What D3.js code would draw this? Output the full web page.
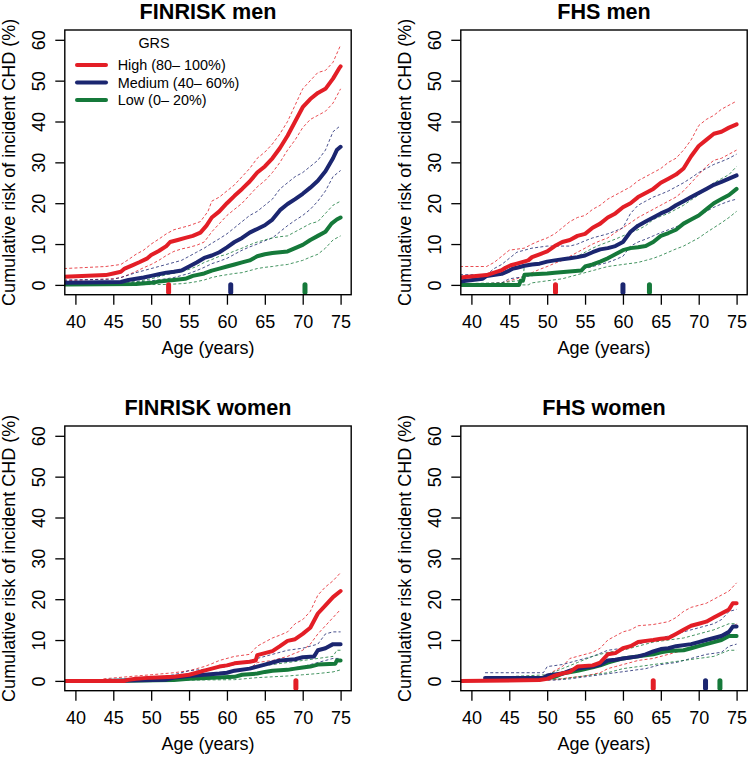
<!DOCTYPE html>
<html><head><meta charset="utf-8">
<script src="https://cdn.jsdelivr.net/npm/d3@7"></script>
<style>body{margin:0;background:#fff}svg{display:block}text{font-family:"Liberation Sans",Arial,Helvetica,sans-serif;fill:#000}</style>
</head><body><svg id="c" width="748" height="760"></svg>
<script>
// ---------- DATA ----------
const panelTitles = ["FINRISK men","FHS men","FINRISK women","FHS women"];
const groupNames = ["High (80\u2013 100%)","Medium (40\u2013 60%)","Low (0\u2013 20%)"];
const legendTitle = "GRS";
const xTicks = [40,45,50,55,60,65,70,75];
const yTicks = [0,10,20,30,40,50,60];
const xLabel = "Age (years)";
const yLabel = "Cumulative risk of incident CHD (%)";

// FINRISK men
const finMenHighEst=[[38.5,2],[44,2.4],[45,2.8],[46,3.2],[46.5,4],[47.5,4.8],[48.5,5.6],[49.5,6.5],[50,7.3],[51,8.3],[52,9.5],[52.5,10.5],[53.5,11],[54.5,11.5],[55.5,12],[56.5,12.8],[57.3,14.5],[58,16.5],[59,18],[60,20],[61,21.8],[62,23.5],[63,25.3],[64,27.5],[65,29],[66,31],[67,33.5],[68,36.5],[69,40],[70,43.5],[71,45.5],[72,47],[73,48],[74,50.5],[74.8,53],[75,53.5]];
const finMenHighHi=[[38.5,4],[44,4.5],[46,5],[47,6.2],[48,7.5],[49,8.5],[50,10],[51,11.2],[52,12.5],[53,13.5],[55,14.5],[56.5,15.5],[57.5,18],[58,20.5],[59,21.5],[60,23],[61,24.5],[62,26.5],[63,28.5],[64,31],[65,32.5],[66,34.5],[67,37],[68,40],[69,44],[70,48],[71,50],[72,52],[73,52.5],[74,54.5],[75,58.7]];
const finMenHighLo=[[38.5,1],[45,1.5],[46,1.8],[47,2.5],[48,3.3],[49,4.2],[50,5],[51,6],[52,7.2],[53,8.2],[54,8.8],[55,9.2],[56,9.7],[57,10.5],[58,13],[59,15],[60,17],[61,18.5],[62,20],[63,22],[64,24],[65,25.5],[66,27.5],[67,30],[68,33],[69,35.5],[70,38.5],[71,40.5],[72,41.5],[73,42.5],[74,44.5],[75,48]];
const finMenMedEst=[[38.5,0.5],[46,0.7],[47,1.2],[48,1.5],[49,1.8],[50,2.2],[51,2.6],[52,3],[53,3.2],[54,3.5],[55,4.5],[56,5.5],[57,6.6],[58,7.2],[59,8],[60,9.2],[61,10.5],[62,11.5],[63,12.8],[64,13.7],[65,14.6],[66,16],[67,18.3],[68,19.8],[69,21],[70,22.3],[71,23.8],[72,25.5],[73,27.8],[74,31],[74.5,33],[75,33.8]];
const finMenMedHi=[[38.5,1.2],[45,1.4],[46,1.8],[47,2.4],[48,3],[49,3.5],[50,4],[51,4.5],[52,5],[53,5.5],[54,6],[55,7],[56,8],[57,9],[58,10.2],[59,11.3],[60,12.5],[61,14],[62,15.5],[63,17],[64,18],[65,19.5],[66,21],[67,23.5],[68,25],[69,26.5],[70,27.5],[71,29],[72,30.5],[73,33],[74,37.5],[75,39]];
const finMenMedLo=[[38.5,0],[46,0.1],[47,0.5],[48,0.7],[50,1],[52,1.5],[53,1.8],[54,2.3],[55,2.8],[56,3.5],[57,4.3],[58,5.2],[59,5.8],[60,6.5],[61,7.5],[62,8.5],[63,9.3],[64,10],[65,10.8],[66,11.5],[67,13],[68,14.5],[69,15.8],[70,17],[71,18.5],[72,20.5],[73,23],[74,26.5],[75,28]];
const finMenLowEst=[[38.5,0.1],[48,0.2],[50,0.5],[51,0.8],[52,1],[53,1.2],[54.5,1.5],[55.5,2.2],[57,2.8],[58,3.5],[59,4],[60,4.5],[61,5],[62,5.5],[63,6],[64,7],[65,7.5],[66,7.8],[67,8],[68,8.2],[69,9],[70,9.8],[71,11],[72,12],[73,13],[73.8,15],[74.5,16],[75,16.5]];
const finMenLowHi=[[38.5,0.5],[48,0.8],[50,1.5],[51,2],[52,2.5],[54,3.2],[55,3.8],[56,4.5],[57,5.5],[58,6.2],[59,7],[60,7.5],[61,8.3],[62,9],[63,9.8],[64,10.5],[65,11],[66,11.5],[67,11.8],[68,12],[69,13],[70,14],[71,15],[72,15.5],[73,17.5],[74,19.5],[75,20.5]];
const finMenLowLo=[[38.5,0],[52,0.1],[54,0.3],[55,0.5],[56,0.8],[57,1.2],[58,1.8],[59,2.2],[60,2.5],[61,2.8],[62,3],[63,3.5],[64,4],[65,4.3],[66,4.5],[67,4.8],[68,5],[69,5.5],[70,6],[71,6.8],[72,7.5],[73,9],[74,11],[75,12]];

// FHS men
const fhsMenHighEst=[[38.5,1.8],[42,2.4],[43,3],[44,3.6],[44.5,4.2],[45.2,4.8],[46,5.2],[47.5,6],[48,6.8],[49,7.5],[50,8.2],[51,9.5],[52,10.5],[53,11],[54,12],[55,12.5],[56,14],[57,15],[58,16.5],[59,17.5],[60,19],[61,20],[62,21.5],[63,22.5],[64,23.5],[65,25],[66,26],[67,27],[68,28.5],[69,31.5],[70,34],[71,35.5],[72,37],[73,37.5],[74,38.5],[75,39.3]];
const fhsMenHighHi=[[38.5,4.5],[42,4.5],[43,5.5],[44,7],[45,8.5],[47,9],[48,10],[49,10.8],[50,11.5],[51,12.5],[52,14],[53,15.5],[54,16.5],[55,17],[56,18.5],[57,19.5],[58,21],[59,22],[60,23],[61,24],[62,25.5],[63,26.5],[64,27.5],[65,28.5],[66,30],[67,31],[68,33],[69,35.5],[70,39],[71,40.5],[72,41.5],[73,43],[74,44],[75,45]];
const fhsMenHighLo=[[38.5,0],[44,0.5],[45,1],[46,1.5],[47,2.2],[48,3],[49,3.8],[50,4.5],[51,5.3],[52,6],[53,7],[54,8],[55,9],[56,10],[57,10.8],[58,11.5],[59,12.8],[60,14],[61,15.2],[62,16.5],[63,17.5],[64,18.5],[65,19.5],[66,20.5],[67,21.5],[68,23],[69,25],[70,27],[71,29],[72,30.5],[73,31],[74,32],[75,33]];
const fhsMenMedEst=[[38.5,0.8],[41.5,1.5],[42,2.2],[44,2.7],[45,3.5],[45.5,4],[46,4.2],[47,4.7],[48,5],[49,5.2],[50,5.7],[51,6],[53,6.5],[54,6.8],[55,7.2],[56,8],[57,8.7],[58,9],[59,9.5],[60,10.5],[61,13],[62,14.5],[63,15.5],[64,16.5],[65,17.5],[66,18.3],[67,19.5],[68,20.5],[69,21.5],[70,22.5],[71,23.5],[72,24.5],[73,25.2],[74,26],[75,26.8]];
const fhsMenMedHi=[[38.5,2.5],[42,2.5],[43,4],[44,5],[45,6.5],[46,8],[48,9],[50,9.5],[53,9.5],[54,10],[55,10.8],[56,11.5],[57,12],[58,12.5],[59,13.2],[60,14],[61,17.5],[62,19.5],[63,20.5],[64,21.5],[65,22.2],[66,23],[67,24],[68,25],[69,26.2],[70,27.5],[71,28.5],[72,29.5],[73,30.2],[74,31],[75,32]];
const fhsMenMedLo=[[38.5,0],[44,0.5],[45,1.5],[47,2],[49,2.5],[52,3],[54,3.5],[55,4],[56,4.5],[57,5],[58,5.5],[59,6.2],[60,7],[61,9.5],[62,10.5],[63,11.2],[64,12],[65,12.8],[66,13.5],[67,14.2],[68,15],[69,16],[70,17],[71,18],[72,19],[73,19.8],[74,20.5],[75,21]];
const fhsMenLowEst=[[38.5,0],[46.3,0],[46.5,1],[46.8,1],[47,2.5],[50,2.8],[51,3],[54.5,3.5],[55,4.5],[56,5],[57,5.7],[58,6.5],[59,7.5],[60,8.5],[61,9],[62,9.2],[63,9.5],[64,10.5],[65,12],[66,12.7],[67,13.5],[68,15],[69,16],[70,17],[71,18.5],[72,20],[73,21],[74,22],[75,23.5]];
const fhsMenLowHi=[[38.5,0.3],[44,0.5],[46,1],[46.8,1],[47,5],[49,5.5],[52,6],[53,6.5],[54,7],[55,8],[56,9],[57,9.8],[58,10.5],[59,11.2],[60,12],[61,12.8],[62,13.5],[63,14.5],[64,16],[65,16.8],[66,17.5],[67,18.5],[68,19.5],[69,20.8],[70,22],[71,23.5],[72,25],[73,26],[74,27],[75,29]];
const fhsMenLowLo=[[38.5,0],[47.5,0],[48,0.5],[50,1],[52,1.5],[53,2],[54,2.5],[55,3],[56,3.5],[57,4],[58,4.5],[60,5],[62,5.5],[63,6],[64,6.5],[65,7.2],[66,8],[67,8.8],[68,9.5],[69,10.5],[70,11.5],[71,12.8],[72,14],[73,15.2],[74,16.5],[75,18]];

// FINRISK women
const finWomHighEst=[[38.5,0],[46.5,0],[47,0.3],[48,0.5],[50,0.8],[53,1],[55,1.5],[56,2],[57,2.5],[58,3],[59,3.5],[60,3.8],[61,4.3],[62,4.5],[63,4.7],[63.8,5],[64,6.3],[65,6.8],[66,7.3],[67,8.5],[68,9.8],[69,10.2],[70,11.5],[71,13],[72,16.5],[73,18.5],[74,20.5],[75,22]];
const finWomHighHi=[[43.7,0.5],[48,1.2],[50,1.5],[53,2],[55,2.5],[56,3],[57,3.5],[58,4.2],[59,5],[60,5.5],[61,6],[63,6.5],[64,8.5],[65,9.5],[66,10.5],[67,11.2],[68,12],[69,14],[70,15],[71,17],[72,21],[73,23],[74,24.5],[75,26.5]];
const finWomHighLo=[[43.7,0],[50,0.2],[53,0.4],[55,0.8],[57,1.2],[58,1.6],[59,2],[60,2.2],[61,2.5],[63,3],[64,4.5],[66,5],[67,5.5],[68,6],[69,6.8],[70,7.5],[71,9],[72,11.5],[73,13.5],[74,15.5],[75,17.5]];
const finWomMedEst=[[43.7,0],[52,0.3],[53,0.8],[55,1.2],[57,1.5],[59,1.8],[60,2],[61,2.5],[63,3],[64,3.5],[65,4],[66,4.5],[67,5],[69,5.3],[70,5.8],[71.5,6],[72,7.5],[73,8],[74,9],[75,9]];
const finWomMedHi=[[43.7,0.2],[50,0.7],[53,1.5],[55,2.5],[58,3],[60,3.5],[62,4.5],[64,5.5],[66,6.5],[68,7.5],[70,8],[72,9],[73,11.5],[74,12],[75,12]];
const finWomMedLo=[[43.7,0],[53,0.2],[56,0.4],[60,1],[62,1.5],[64,2],[66,2.5],[68,3],[70,3.5],[72,4.5],[74,5.5],[75,5.5]];
const finWomLowEst=[[43.7,0],[53,0.2],[55,0.5],[58,0.8],[61,1],[62,1.5],[64,1.8],[65,2.2],[66,2.5],[68,2.7],[69,3],[70,3.3],[71,3.5],[72,4],[74.3,4.2],[74.5,5],[75,5]];
const finWomLowHi=[[43.7,0],[53,0.5],[56,1.3],[60,2],[62,2.5],[64,3.5],[66,4],[68,4.5],[70,5],[72,5.5],[74,6],[74.5,7.5],[75,7.5]];
const finWomLowLo=[[43.7,0],[61,0.3],[64,0.8],[66,1],[68,1.2],[70,1.5],[72,1.8],[74,2.2],[75,2.7]];

// FHS women
const fhsWomHighEst=[[38.5,0],[49,0.2],[50,0.5],[51,1.3],[52,1.8],[53,2.2],[54,3.5],[56,3.8],[57,4.5],[58,6.5],[59,6.8],[60,8],[61,8.5],[62,9.5],[63,9.8],[64,10],[65,10.3],[66,10.5],[67,11.5],[68,12.5],[69,13.5],[70,14],[71,14.5],[72,15.5],[73,16.5],[74,17.5],[74.5,19],[75,19]];
const fhsWomHighHi=[[44,0.5],[49,1],[50,1.5],[51,2.5],[52,3.5],[53,5.5],[54,6],[56,7],[57,8],[58,10],[59,11],[60,12],[61,12.5],[62,13.5],[64,13.8],[66,14.5],[67,15.5],[68,17],[69,18],[70,18.5],[71,19],[72,20],[73,21],[74,22],[75,24]];
const fhsWomHighLo=[[44,0],[51,0.3],[53,0.8],[55,1.2],[57,2],[58,3],[59,3.5],[60,4],[62,5],[64,5.5],[66,6.5],[68,7.5],[70,8.5],[72,10],[73,11],[74,12],[75,14]];
const fhsWomMedEst=[[41.8,0.7],[49.5,0.7],[50,1.3],[52,1.8],[53,2.5],[54,3],[56,3.5],[57,4],[58,5],[59,5.2],[60,5.5],[62,6],[63,6.5],[64,7.2],[65,7.8],[66,8],[67,8.5],[69,9],[70,9.5],[71,10],[72,10.5],[73,11],[74,12],[74.5,13.3],[75,13.3]];
const fhsWomMedHi=[[41.8,2],[49.5,2],[50,3.5],[52,4],[54,5],[56,6],[58,7.5],[60,8],[62,9],[64,10],[66,11],[68,12],[70,13],[72,14],[73,15],[74,17],[75,17.5]];
const fhsWomMedLo=[[41.8,0],[51,0.2],[53,0.5],[55,1],[57,1.5],[59,2],[61,2.5],[63,3],[65,4],[67,4.5],[69,5.5],[71,6.5],[73,7],[74,8.5],[75,9]];
const fhsWomLowEst=[[44.5,0.3],[50,0.7],[51,1],[52,1.8],[54,2.5],[56,3.3],[57,3.8],[58,4.5],[60,5.5],[62,6],[64,6.5],[65,7],[66,7.3],[68,7.5],[69,8],[70,8.5],[71,9],[72,9.5],[73,10],[74,11],[75,11]];
const fhsWomLowHi=[[44.5,1],[50,1.5],[52,3],[54,4.5],[56,6],[58,7],[60,7.5],[62,8.5],[64,9.5],[66,10],[68,10.5],[70,11.5],[72,12.5],[74,14],[75,14]];
const fhsWomLowLo=[[44.5,0],[52,0.5],[54,1],[56,1.5],[58,2],[60,3],[62,3.5],[64,4],[66,4.5],[68,5],[70,5.5],[72,6],[74,7.5],[75,7.5]];

// median-age rug markers per group [High, Medium, Low]
const finMenRug=[52.3,60.5,70.3];
const fhsMenRug=[51.1,60.0,63.5];
const finWomRug=[69.1,null,null];
const fhsWomRug=[64.0,70.9,72.8];

// ---------- LAYOUT ----------
const colors=["#e31e26","#1b2670","#15793a"];
const panels=[
 {title:panelTitles[0],dx:0,dy:0,legend:true,rug:finMenRug,
  g:[[finMenHighEst,finMenHighLo,finMenHighHi],[finMenMedEst,finMenMedLo,finMenMedHi],[finMenLowEst,finMenLowLo,finMenLowHi]]},
 {title:panelTitles[1],dx:396,dy:0,legend:false,rug:fhsMenRug,
  g:[[fhsMenHighEst,fhsMenHighLo,fhsMenHighHi],[fhsMenMedEst,fhsMenMedLo,fhsMenMedHi],[fhsMenLowEst,fhsMenLowLo,fhsMenLowHi]]},
 {title:panelTitles[2],dx:0,dy:396,legend:false,rug:finWomRug,
  g:[[finWomHighEst,finWomHighLo,finWomHighHi],[finWomMedEst,finWomMedLo,finWomMedHi],[finWomLowEst,finWomLowLo,finWomLowHi]]},
 {title:panelTitles[3],dx:396,dy:396,legend:false,rug:fhsWomRug,
  g:[[fhsWomHighEst,fhsWomHighLo,fhsWomHighHi],[fhsWomMedEst,fhsWomMedLo,fhsWomMedHi],[fhsWomLowEst,fhsWomLowLo,fhsWomLowHi]]}
];

const svg=d3.select("#c");
const box={l:64.8,r:351.2,t:30,b:294.7};
const x=d3.scaleLinear().domain([38.6,76.4]).range([box.l,box.r]);
const y=d3.scaleLinear().domain([-2.4,62.4]).range([box.b,box.t]);
const line=d3.line().x(d=>x(d[0])).y(d=>y(d[1])).curve(d3.curveLinear);

svg.append("defs").append("clipPath").attr("id","clip").append("rect")
  .attr("x",box.l).attr("y",box.t).attr("width",box.r-box.l).attr("height",box.b-box.t);

panels.forEach(p=>{
  const g=svg.append("g").attr("transform",`translate(${p.dx},${p.dy})`);
  const plot=g.append("g").attr("clip-path","url(#clip)");
  // CI dashed lines
  p.g.forEach((grp,i)=>{
    [grp[1],grp[2]].forEach(d=>{
      plot.append("path").attr("d",line(d)).attr("fill","none")
        .attr("stroke",colors[i]).attr("stroke-width",1).attr("stroke-opacity",0.8)
        .attr("stroke-dasharray","3,2.2");
    });
  });
  // estimates: low, medium, high (high on top)
  [2,1,0].forEach(i=>{
    plot.append("path").attr("d",line(p.g[i][0])).attr("fill","none")
      .attr("stroke",colors[i]).attr("stroke-width",4).attr("stroke-linejoin","round").attr("stroke-linecap","round");
  });
  // rug markers
  p.rug.forEach((v,i)=>{
    if(v==null) return;
    g.append("line").attr("x1",x(v)).attr("x2",x(v)).attr("y1",box.b-2.5).attr("y2",box.b-10)
      .attr("stroke",colors[i]).attr("stroke-width",5).attr("stroke-linecap","round");
  });
  // box
  g.append("rect").attr("x",box.l).attr("y",box.t).attr("width",box.r-box.l).attr("height",box.b-box.t)
    .attr("fill","none").attr("stroke","#000").attr("stroke-width",1.4);
  // x axis
  const xa=g.append("g").attr("transform",`translate(0,${box.b})`)
    .call(d3.axisBottom(x).tickValues(xTicks).tickSize(10).tickPadding(10.5).tickFormat(d3.format("d")));
  xa.select(".domain").remove();
  xa.selectAll("line").attr("stroke-width",1.3);
  xa.selectAll("text").attr("font-size",18).attr("font-family","Liberation Sans, Arial, sans-serif");
  // y axis
  const ya=g.append("g").attr("transform",`translate(${box.l},0)`)
    .call(d3.axisLeft(y).tickValues(yTicks).tickSize(9.5).tickFormat(d3.format("d")));
  ya.select(".domain").remove();
  ya.selectAll("line").attr("stroke-width",1.3);
  ya.selectAll("text").attr("x",null).attr("dy",null).attr("y",0)
    .attr("text-anchor","middle").attr("transform","translate(-19.8,0) rotate(-90)")
    .attr("font-size",18).attr("font-family","Liberation Sans, Arial, sans-serif");
  // labels
  g.append("text").attr("x",(box.l+box.r)/2).attr("y",18.5).attr("text-anchor","middle")
    .attr("font-size",21.6).attr("font-weight","bold").text(p.title);
  g.append("text").attr("x",(box.l+box.r)/2).attr("y",354).attr("text-anchor","middle")
    .attr("font-size",18).text(xLabel);
  g.append("text").attr("transform",`translate(14.5,${(box.t+box.b)/2}) rotate(-90)`)
    .attr("text-anchor","middle").attr("font-size",18).text(yLabel);
  // legend
  if(p.legend){
    const lg=g.append("g");
    lg.append("text").attr("x",154).attr("y",47.7).attr("text-anchor","middle").attr("font-size",14.4).text(legendTitle);
    groupNames.forEach((n,i)=>{
      const yy=65+i*17.5;
      lg.append("line").attr("x1",77).attr("x2",106).attr("y1",yy).attr("y2",yy)
        .attr("stroke",colors[i]).attr("stroke-width",4).attr("stroke-linecap","round");
      lg.append("text").attr("x",117.7).attr("y",yy+5.4).attr("font-size",14.4).text(n);
    });
  }
});
</script></body></html>
